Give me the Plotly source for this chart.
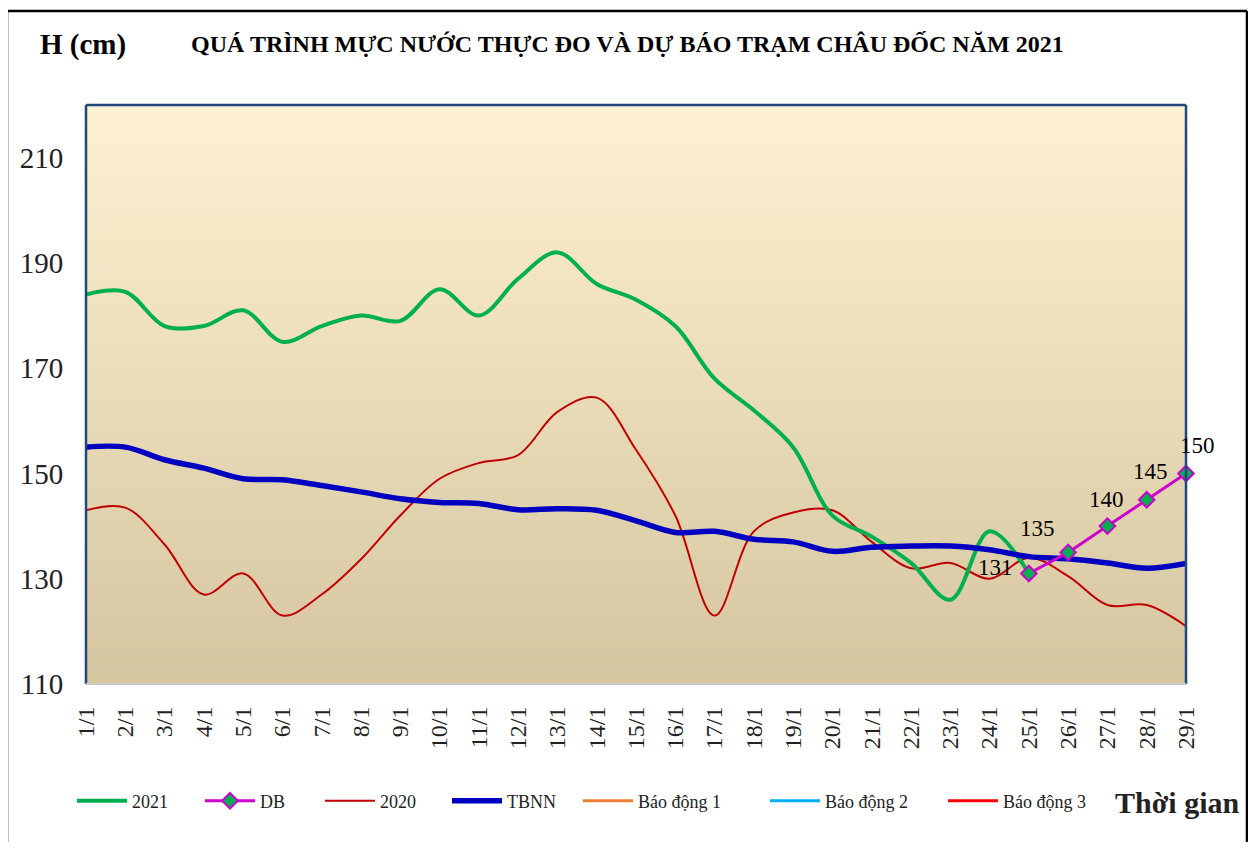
import plotly.graph_objects as go

days = [f"{d}/1" for d in range(1, 30)]

h2021 = [184, 184.5, 178, 178, 181, 175, 178, 180, 179, 185, 180, 187, 192, 186, 183, 178,
         168, 162, 155, 142, 138, 133, 126, 139, 131]
db_days = ["25/1", "26/1", "27/1", "28/1", "29/1"]
db_vals = [131, 135, 140, 145, 150]
h2020 = [143, 143.5, 136.5, 127, 131, 123, 127, 133.7, 142, 149, 152, 153.5, 161.7, 164.4, 154.5,
         142, 123, 139, 142.6, 143, 137, 132, 133, 130, 134, 130.5, 125, 125, 121]
tbnn = [155, 155, 152.6, 151, 149, 148.8, 147.7, 146.5, 145.2, 144.5, 144.3, 143.1, 143.3, 143,
        141, 138.8, 139, 137.5, 137, 135.2, 136, 136.2, 136.2, 135.5, 134.2, 133.8, 133, 132, 132.9]
bd1 = [300] * 29
bd2 = [350] * 29
bd3 = [400] * 29

W, H = 1240, 834
L, R, T, B = 78, 62, 97, 158
PW, PH = W - L - R, H - T - B

def px(x):
    return (x - L) / PW

def py(y):
    return 1 - (y - T) / PH

idx = {d: i for i, d in enumerate(days)}
X = list(range(29))

fig = go.Figure()

fig.add_trace(go.Scatter(x=X, y=h2020, mode="lines", name="2020", legend="legend3",
                         line=dict(color="#C00000", width=2, shape="spline")))
fig.add_trace(go.Scatter(x=X[:len(h2021)], y=h2021, mode="lines", name="2021", legend="legend",
                         line=dict(color="#00B050", width=4, shape="spline")))
fig.add_trace(go.Scatter(x=X, y=tbnn, mode="lines", name="TBNN", legend="legend4",
                         line=dict(color="#0000C0", width=5.5, shape="spline")))
fig.add_trace(go.Scatter(x=[idx[d] for d in db_days], y=db_vals, mode="lines+markers",
                         name="DB", legend="legend2", cliponaxis=False,
                         line=dict(color="#CC00CC", width=3),
                         marker=dict(symbol="diamond", size=12, color="#00B050",
                                     line=dict(color="#CC00CC", width=2))))
fig.add_trace(go.Scatter(x=X, y=bd1, mode="lines", name="Báo động 1", legend="legend5",
                         line=dict(color="#ED7D31", width=3)))
fig.add_trace(go.Scatter(x=X, y=bd2, mode="lines", name="Báo động 2", legend="legend6",
                         line=dict(color="#00B0F0", width=3)))
fig.add_trace(go.Scatter(x=X, y=bd3, mode="lines", name="Báo động 3", legend="legend7",
                         line=dict(color="#FF0000", width=3)))

shapes = []
# gradient background bands
N = 80
top = (255, 240, 210)
bot = (213, 198, 160)
for i in range(N):
    f = (i + 0.5) / N
    c = tuple(round(top[k] + (bot[k] - top[k]) * f) for k in range(3))
    shapes.append(dict(type="rect", xref="paper", yref="paper", x0=0, x1=1,
                       y0=1 - (i + 1) / N - 0.001, y1=1 - i / N,
                       fillcolor="rgb(%d,%d,%d)" % c, line=dict(width=0), layer="below"))
# plot area borders
bc = "#1F497D"
shapes.append(dict(type="line", xref="paper", yref="paper", x0=0, x1=1, y0=1, y1=1, line=dict(color=bc, width=2.5)))
shapes.append(dict(type="line", xref="paper", yref="paper", x0=0, x1=0, y0=0, y1=1, line=dict(color=bc, width=2.5)))
shapes.append(dict(type="line", xref="paper", yref="paper", x0=1, x1=1, y0=0, y1=1, line=dict(color=bc, width=2.5)))
shapes.append(dict(type="line", xref="paper", yref="paper", x0=0, x1=1, y0=0, y1=0, line=dict(color="#C8C8C8", width=2)))
# outer figure border (left, top, right)
ox0, ox1, oy0, oy1 = px(-1), px(1239), py(3), py(H + 5)
shapes.append(dict(type="line", xref="paper", yref="paper", x0=ox0, x1=ox1, y0=oy0, y1=oy0, line=dict(color="black", width=2.5)))
shapes.append(dict(type="line", xref="paper", yref="paper", x0=ox0, x1=ox0, y0=oy0, y1=oy1, line=dict(color="black", width=2.5)))
shapes.append(dict(type="line", xref="paper", yref="paper", x0=ox1, x1=ox1, y0=oy0, y1=oy1, line=dict(color="black", width=2.5)))

annotations = [
    dict(text="<b>H (cm)</b>", xref="paper", yref="paper", x=px(30), y=py(36),
         xanchor="left", yanchor="middle", showarrow=False,
         font=dict(family="Liberation Serif", size=29, color="black")),
    dict(text="<b>QUÁ TRÌNH MỰC NƯỚC THỰC ĐO VÀ DỰ BÁO TRẠM CHÂU ĐỐC NĂM 2021</b>",
         xref="paper", yref="paper", x=px(619), y=py(36),
         xanchor="center", yanchor="middle", showarrow=False,
         font=dict(family="Liberation Serif", size=24, color="black")),
    dict(text="<b>Thời gian</b>", xref="paper", yref="paper", x=px(1233), y=py(794),
         xanchor="right", yanchor="middle", showarrow=False,
         font=dict(family="Liberation Serif", size=30, color="#222222")),
]
# data labels for DB points
label_shift = [(-33, 6), (-31, 24), (-1, 27), (4, 28), (11, 28)]
for d, v, (dx, dy) in zip(db_days, db_vals, label_shift):
    annotations.append(dict(text=str(v), x=idx[d], y=v, xref="x", yref="y",
                            xshift=dx, yshift=dy, showarrow=False,
                            xanchor="center", yanchor="middle",
                            font=dict(family="Liberation Serif", size=23, color="black")))

legend_x = [64, 192, 312, 439, 570, 757, 935]
leg_common = dict(orientation="h", yanchor="middle", y=py(793), xanchor="left",
                  font=dict(family="Liberation Serif", size=18, color="#222222"),
                  bgcolor="rgba(0,0,0,0)", itemwidth=50)
legends = {}
for i, lx in enumerate(legend_x):
    key = "legend" if i == 0 else f"legend{i + 1}"
    legends[key] = dict(leg_common, x=px(lx))

fig.update_layout(
    width=W, height=H,
    margin=dict(l=L, r=R, t=T, b=B),
    paper_bgcolor="white", plot_bgcolor="rgba(0,0,0,0)",
    font=dict(family="Liberation Serif", color="black"),
    showlegend=True,
    shapes=shapes, annotations=annotations,
    xaxis=dict(range=[0, 28], tickmode="array", tickvals=X, ticktext=days, tickangle=-90,
               showgrid=False, zeroline=False, showline=False,
               ticks="outside", ticklen=12, tickcolor="rgba(0,0,0,0)",
               tickfont=dict(family="Liberation Serif", size=24, color="#222222"),
               fixedrange=True),
    yaxis=dict(range=[110, 220], tickmode="array", tickvals=[110, 130, 150, 170, 190, 210],
               showgrid=False, zeroline=False, showline=False,
               ticks="outside", ticklen=16, tickcolor="rgba(0,0,0,0)",
               tickfont=dict(family="Liberation Serif", size=29, color="#222222"),
               fixedrange=True),
    **legends,
)

fig.write_html("out.html")
